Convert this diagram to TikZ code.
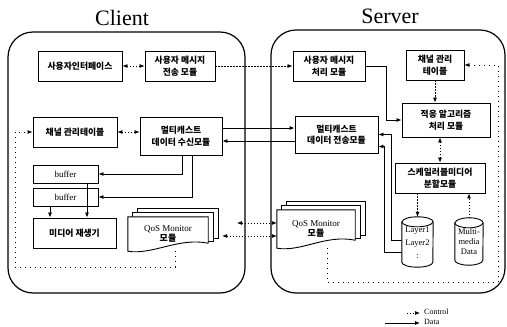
\documentclass[tikz,border=0pt]{standalone}
\usepackage{fontspec}
\setmainfont{Liberation Serif}
\newfontfamily\kr{Noto Sans CJK KR}
\usetikzlibrary{arrows.meta,calc,backgrounds}
\newcommand\qosstack[1]{%
  \begin{scope}[on background layer]
  \draw[page] ([shift={(10pt,8pt)}]#1.north west) rectangle ([shift={(10pt,13pt)}]#1.south east);
  \draw[page] ([shift={(5pt,4pt)}]#1.north west) rectangle ([shift={(5pt,10pt)}]#1.south east);
  \draw[page] (#1.north west) -- (#1.north east) -- ([yshift=8pt]#1.south east)
     .. controls ([shift={(-30pt,14pt)}]#1.south east) and ([shift={(25pt,-4pt)}]#1.south west) .. (#1.south west) -- cycle;
  \end{scope}}
\newcommand\cylbg[2]{%
  \begin{scope}[on background layer]
  \draw[page] (#1.north west) -- (#1.south west) arc[start angle=180,end angle=360,x radius=#2,y radius=5pt]
     -- (#1.north east) arc[start angle=0,end angle=180,x radius=#2,y radius=5pt] -- cycle;
  \draw[page] (#1.north west) arc[start angle=180,end angle=360,x radius=#2,y radius=5pt];
  \end{scope}}
\begin{document}
\begin{tikzpicture}[x=1pt,y=-1pt,
  >={Latex[length=5pt,width=4pt]},
  box/.style={draw,line width=0.9pt,inner sep=1pt,align=center,font=\kr\bfseries\fontsize{8.8}{11.5}\selectfont},
  lat/.style={font=\fontsize{9}{10.5}\selectfont},
  plain/.style={inner sep=1pt,align=center},
  page/.style={draw,line width=0.9pt,fill=white},
  frame/.style={draw,line width=1.2pt,rounded corners=25pt,inner sep=0pt},
  ctrl/.style={line width=0.7pt,dash pattern=on 1.2pt off 1.8pt},
  loopc/.style={line width=0.7pt,dash pattern=on 1pt off 4pt},
  data/.style={line width=0.8pt},
  title/.style={font=\fontsize{22}{24}\selectfont}]
\useasboundingbox (0,0) rectangle (507,327);

% titles and frames
\node[title] (ctitle) at (122,18) {Client};
\node[title] (stitle) at (390,16) {Server};
\node[frame,minimum width=237,minimum height=261] (cframe) at (126.5,162.5) {};
\node[frame,minimum width=234,minimum height=263] (sframe) at (388,161.5) {};

% client nodes
\node[box,minimum width=84,minimum height=30] (ui) at (80,66) {사용자인터페이스};
\node[box,minimum width=70,minimum height=30] (msgsend) at (180,66) {사용자 메시지\\전송 모듈};
\node[box,minimum width=84,minimum height=30] (chtab) at (75,132) {채널 관리테이블};
\node[box,minimum width=82,minimum height=38] (recv) at (181,136) {멀티캐스트\\데이터 수신모듈};
\node[box,lat,minimum width=65,minimum height=18] (buf1) at (65.5,174) {buffer};
\node[box,lat,minimum width=65,minimum height=18] (buf2) at (65.5,197) {buffer};
\node[box,minimum width=83,minimum height=30] (player) at (74.5,233) {미디어 재생기};
\node[plain,lat,minimum width=80,minimum height=34] (cqos) at (168,234) {QoS Monitor\\{\kr\bfseries 모듈}};
\qosstack{cqos}

% server nodes
\node[box,minimum width=72,minimum height=30] (smsg) at (329,66) {사용자 메시지\\처리 모듈};
\node[box,minimum width=58,minimum height=30] (stab) at (435,65) {채널 관리\\테이블};
\node[box,minimum width=88,minimum height=34] (adapt) at (446,120) {적응 알고리즘\\처리 모듈};
\node[box,minimum width=83,minimum height=37] (send) at (336.5,134.5) {멀티캐스트\\데이터 전송모듈};
\node[box,minimum width=90,minimum height=30] (scal) at (440,178) {스케일러블미디어\\분할모듈};
\node[plain,font=\fontsize{8.5}{13}\selectfont,minimum width=31,minimum height=40] (layer) at (417.5,242) {\\[-6pt]Layer1\\Layer2\\:};
\cylbg{layer}{15.5pt}
\node[plain,font=\fontsize{8.5}{10}\selectfont,minimum width=28,minimum height=37] (mm) at (469,241.5) {Multi-\\media\\Data};
\cylbg{mm}{14pt}
\node[plain,lat,minimum width=78,minimum height=38] (sqos) at (316,229) {QoS Monitor\\{\kr\bfseries 모듈}};
\qosstack{sqos}

% control connectors
\draw[ctrl,<->] (ui.east) -- (msgsend.west);
\draw[ctrl,->] (msgsend.east) -- (msgsend.east -| smsg.west);
\draw[ctrl,<->] (chtab.east) -- (chtab.east -| recv.west);
\coordinate (cl1) at (15,267);
\draw[loopc,->] ([xshift=7pt]cqos.south) |- (cl1) |- (chtab.west);
\coordinate (sl1) at (498,282);
\draw[loopc,->] ([xshift=11pt]sqos.south) |- (sl1) |- (stab.east);
\draw[ctrl,->] (stab.south) -- (stab.south |- adapt.north);
\draw[ctrl,<->] (scal.north |- adapt.south) -- (scal.north);
\draw[ctrl,->] (layer.north |- scal.south) -- ([yshift=5pt]layer.north);
\draw[ctrl,->] ([yshift=5pt]mm.north) -- (mm.north |- scal.south);
\coordinate (q1) at (237,223);
\draw[ctrl,<->] (q1) -- (q1 -| sqos.west);
\coordinate (q2) at ([xshift=14pt,yshift=-2pt]cqos.east);
\draw[ctrl,<->] (q2) -- (q2 -| sqos.west);

% data connectors
\draw[data,->] ([yshift=8pt]recv.east) -- ([yshift=8pt]recv.east -| send.west);
\draw[data,<-] ([yshift=-5pt]recv.east) -- ([yshift=-5pt]recv.east -| send.west);
\draw[data,->] (smsg.east) -- ++(21,0) |- (adapt.west);
\draw[data,->] ([xshift=1pt]recv.south) |- (buf1.east);
\draw[data,->] ([xshift=11pt]recv.south) |- (buf2.east);
\draw[data,->] ([xshift=-15.5pt]buf2.south) -- ([xshift=-15.5pt]buf2.south |- player.north);
\draw[data,->] ([xshift=21.5pt]buf1.south) -- ([xshift=21.5pt]buf1.south |- player.north);
\draw[data,->] ([yshift=2pt]layer.west) -- ++(-10,0) |- (send.east);
\draw[data,->] ([yshift=-10pt]layer.west) -- ++(-17,0) |- ([yshift=-12pt]send.east);

% legend
\coordinate (lc0) at (407,313);
\coordinate (lc1) at (420,313);
\draw[ctrl,->] (lc0) -- (lc1);
\node[plain,anchor=west,font=\fontsize{8}{9}\selectfont] (lct) at (423,312) {Control};
\coordinate (ld0) at (385,323);
\coordinate (ld1) at (420,323);
\draw[data,->] (ld0) -- (ld1);
\node[plain,anchor=west,font=\fontsize{8}{9}\selectfont] (ldt) at (423,322) {Data};
\end{tikzpicture}
\end{document}
